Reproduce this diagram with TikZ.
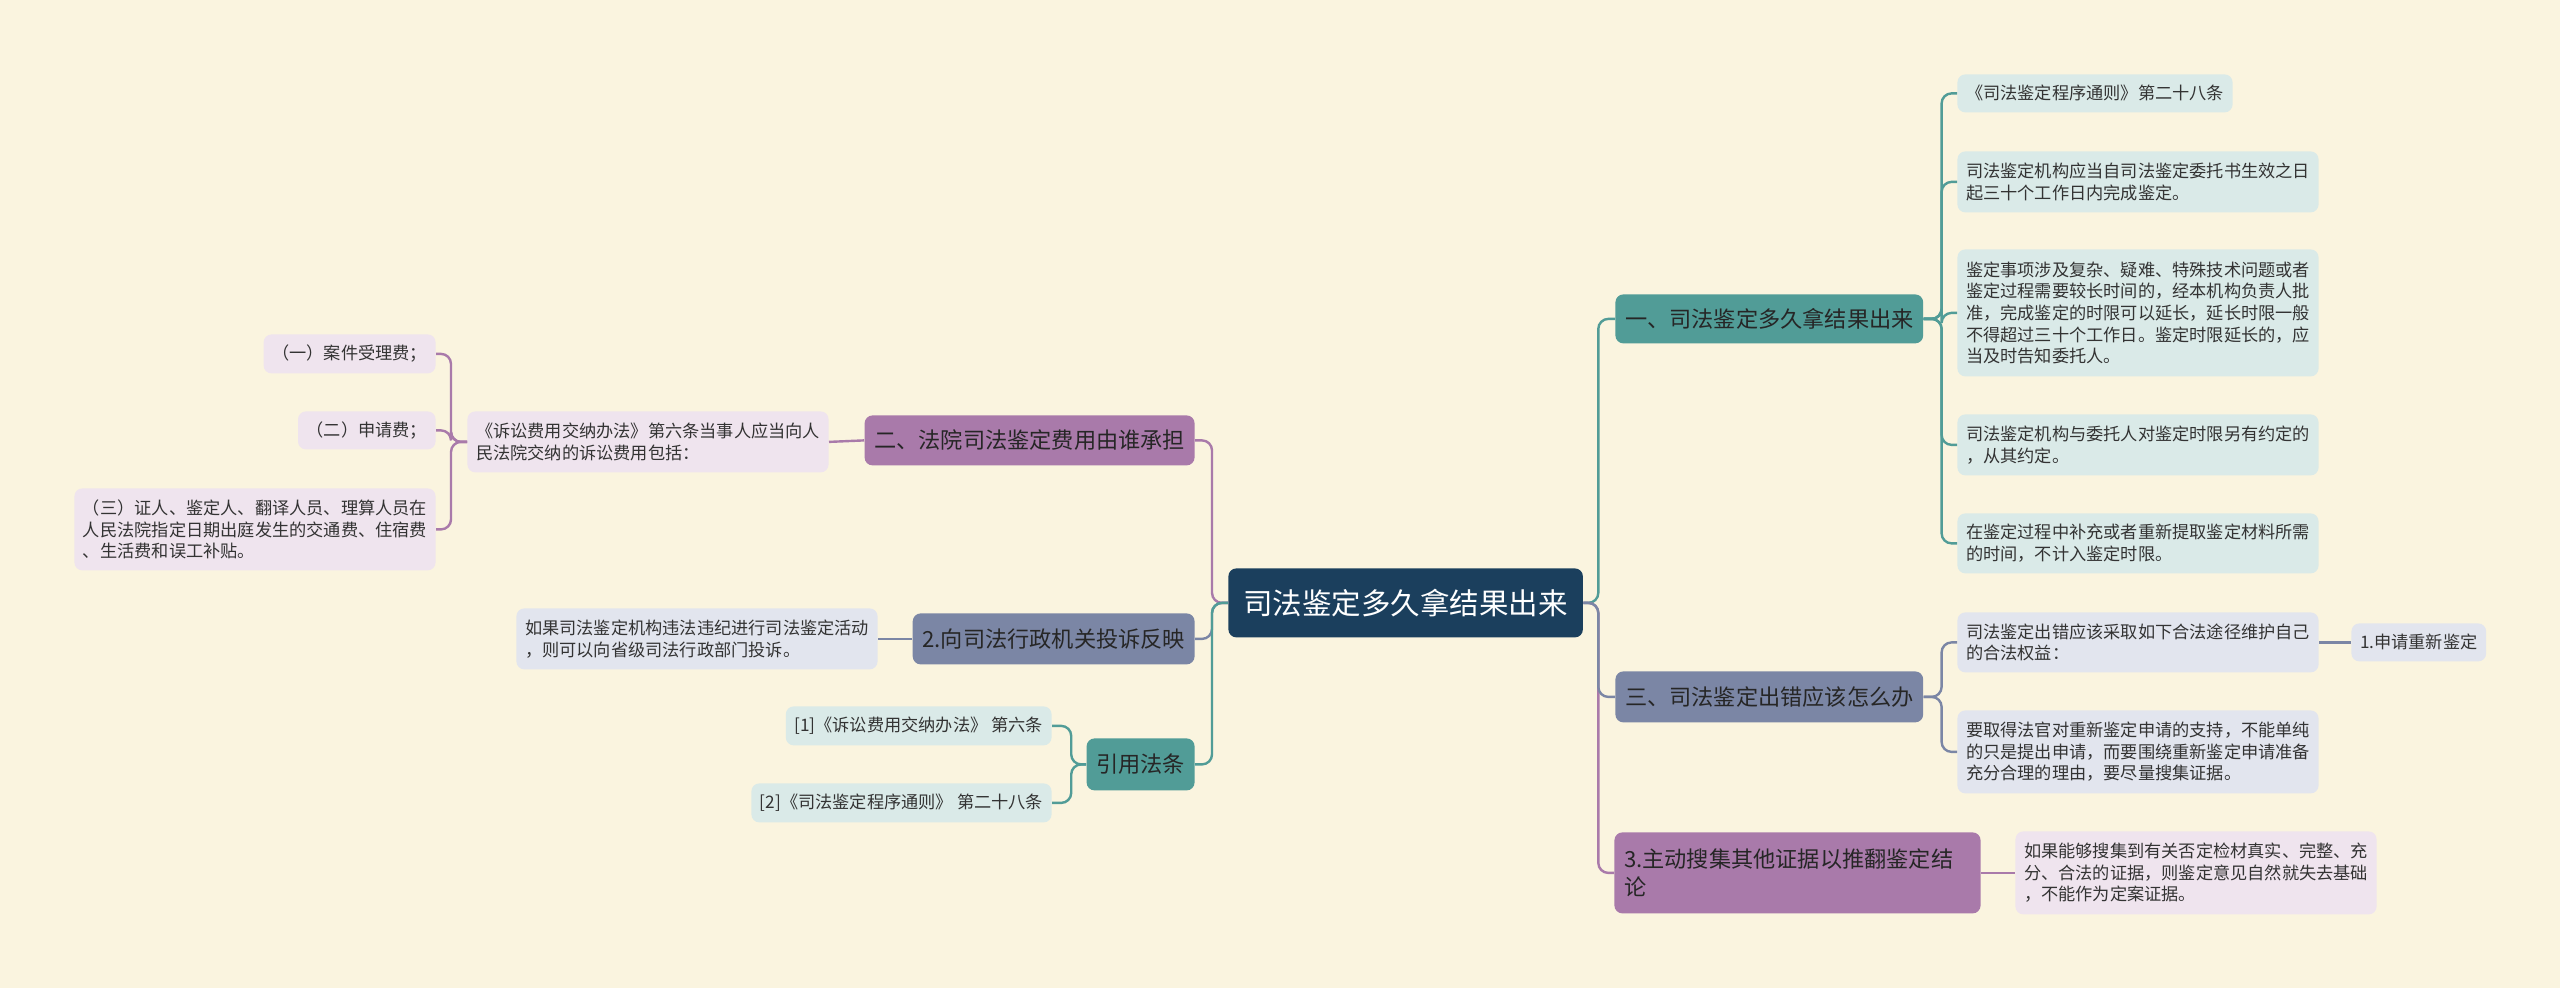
\documentclass[tikz,border=0pt]{standalone}
\usepackage{fontspec}
\setmainfont{Noto Sans CJK SC}
\definecolor{bg}{HTML}{FAF4DF}
\definecolor{navy}{HTML}{1B3F5D}
\definecolor{tealB}{HTML}{519C97}
\definecolor{tealL}{HTML}{DAEAE8}
\definecolor{purpB}{HTML}{A97AAA}
\definecolor{purpL}{HTML}{EFE4EE}
\definecolor{slatB}{HTML}{7B86A5}
\definecolor{slatL}{HTML}{E2E5EE}
\definecolor{txt}{HTML}{333333}
\tikzset{
  box/.style={rounded corners=4pt, inner ysep=0pt, align=left, text=txt},
  leaf/.style={box, font=\fontsize{8.6}{10.85}\selectfont, inner xsep=4.3pt},
  tleaf/.style={leaf, fill=tealL},
  pleaf/.style={leaf, fill=purpL},
  sleaf/.style={leaf, fill=slatL},
  branch/.style={box, font=\fontsize{11.1}{14}\selectfont, inner xsep=4.8pt, text=black!85},
  tbranch/.style={branch, fill=tealB},
  pbranch/.style={branch, fill=purpB},
  sbranch/.style={branch, fill=slatB},
  rootbox/.style={rounded corners=4pt, fill=navy, text=white, font=\fontsize{14.75}{17}\selectfont, inner xsep=7.5pt, inner ysep=0pt},
  link/.style={line width=1.2pt, rounded corners=5pt},
}
\begin{document}
\begin{tikzpicture}[x=0.5pt, y=-0.5pt]
\fill[bg] (0,0) rectangle (2560,988);
\useasboundingbox (0,0) rectangle (2560,988);

% root
\node[rootbox, anchor=north west, minimum height=34.5pt] (root) at (1228,568) {司法鉴定多久拿结果出来};

% right branches
\node[tbranch, anchor=north west, minimum height=24.5pt] (b1) at (1615,294) {一、司法鉴定多久拿结果出来};
\node[sbranch, anchor=north west, minimum height=25.5pt] (b3) at (1615,671) {三、司法鉴定出错应该怎么办};
\node[pbranch, anchor=north west, minimum height=40.5pt, text width=173.5pt] (b4) at (1614,832) {3.主动搜集其他证据以推翻鉴定结\\论};

% b1 leaves
\node[tleaf, anchor=north west, minimum height=19pt] (r1) at (1957,74) {《司法鉴定程序通则》第二十八条};
\node[tleaf, anchor=north west, minimum height=30.5pt] (r2) at (1957,151) {司法鉴定机构应当自司法鉴定委托书生效之日\\起三十个工作日内完成鉴定。};
\node[tleaf, anchor=north west, minimum height=63.5pt] (r3) at (1957,249) {鉴定事项涉及复杂、疑难、特殊技术问题或者\\鉴定过程需要较长时间的，经本机构负责人批\\准，完成鉴定的时限可以延长，延长时限一般\\不得超过三十个工作日。鉴定时限延长的，应\\当及时告知委托人。};
\node[tleaf, anchor=north west, minimum height=30.5pt] (r4) at (1957,414) {司法鉴定机构与委托人对鉴定时限另有约定的\\，从其约定。};
\node[tleaf, anchor=north west, minimum height=30pt] (r5) at (1957,513) {在鉴定过程中补充或者重新提取鉴定材料所需\\的时间，不计入鉴定时限。};

% b3 leaves
\node[sleaf, anchor=north west, minimum height=30pt] (s1) at (1957,612) {司法鉴定出错应该采取如下合法途径维护自己\\的合法权益：};
\node[sleaf, anchor=north west, minimum height=41.5pt] (s2) at (1957,710) {要取得法官对重新鉴定申请的支持，不能单纯\\的只是提出申请，而要围绕重新鉴定申请准备\\充分合理的理由，要尽量搜集证据。};
\node[sleaf, anchor=north west, minimum height=19pt] (s3) at (2351,623) {1.申请重新鉴定};

% b4 leaf
\node[pleaf, anchor=north west, minimum height=41.5pt] (p1) at (2015,831) {如果能够搜集到有关否定检材真实、完整、充\\分、合法的证据，则鉴定意见自然就失去基础\\，不能作为定案证据。};

% left branches
\node[pbranch, anchor=north east, minimum height=25pt] (l1) at (1195,415) {二、法院司法鉴定费用由谁承担};
\node[sbranch, anchor=north east, minimum height=25.5pt] (l2) at (1195,613) {2.向司法行政机关投诉反映};
\node[tbranch, anchor=north east, minimum height=26pt] (l3) at (1195,738) {引用法条};

% l1 leaves
\node[pleaf, anchor=north east, minimum height=30.5pt] (m1) at (829,411) {《诉讼费用交纳办法》第六条当事人应当向人\\民法院交纳的诉讼费用包括：};
\node[pleaf, anchor=north east, minimum height=19.5pt] (n1) at (436,334) {（一）案件受理费；};
\node[pleaf, anchor=north east, minimum height=19pt] (n2) at (436,411) {（二）申请费；};
\node[pleaf, anchor=north east, minimum height=41pt] (n3) at (436,488) {（三）证人、鉴定人、翻译人员、理算人员在\\人民法院指定日期出庭发生的交通费、住宿费\\、生活费和误工补贴。};

% l2 leaf
\node[sleaf, anchor=north east, minimum height=30.5pt] (m2) at (878,608) {如果司法鉴定机构违法违纪进行司法鉴定活动\\，则可以向省级司法行政部门投诉。};

% l3 leaves
\node[tleaf, anchor=north east, minimum height=19.5pt] (q1) at (1052,706) {[1]《诉讼费用交纳办法》 第六条};
\node[tleaf, anchor=north east, minimum height=19.5pt] (q2) at (1052,783) {[2]《司法鉴定程序通则》 第二十八条};

% connectors: root to branches
\draw[link, tealB] (root.east) -- ++(15,0) |- (b1.west);
\draw[link, purpB] (root.east) -- ++(15,0) |- (b4.west);
\draw[link, slatB] (root.east) -- ++(15,0) |- (b3.west);
\draw[link, purpB] (root.west) -- ++(-16,0) |- (l1.east);
\draw[link, slatB] (root.west) -- ++(-16,0) |- (l2.east);
\draw[link, tealB] (root.west) -- ++(-16,0) |- (l3.east);

% b1 to leaves
\foreach \n in {r1,r2,r3,r4,r5}
  \draw[link, tealB] (b1.east) -- ++(18,0) |- (\n.west);
% b3 to leaves
\foreach \n in {s1,s2}
  \draw[link, slatB] (b3.east) -- ++(18,0) |- (\n.west);
\draw[link, slatB] (s1.east) -- (s3.west);
% b4 leaf
\draw[link, purpB] (b4.east) -- (p1.west);
% l1
\draw[link, purpB] (l1.west) -- (m1.east);
\foreach \n in {n1,n2,n3}
  \draw[link, purpB] (m1.west) -- ++(-16,0) |- (\n.east);
% l2
\draw[link, slatB] (l2.west) -- (m2.east);
% l3
\foreach \n in {q1,q2}
  \draw[link, tealB] (l3.west) -- ++(-15,0) |- (\n.east);
\end{tikzpicture}
\end{document}
